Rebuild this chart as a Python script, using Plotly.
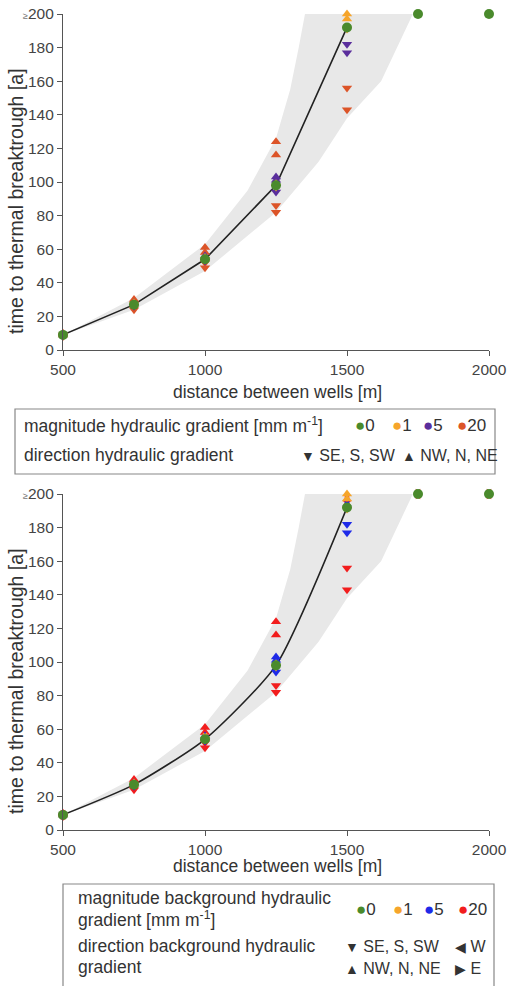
import plotly.graph_objects as go

W, H = 511, 986

# ---------------- data ----------------
dist = [500, 750, 1000, 1250, 1500, 1750, 2000]
green_y = [9, 27, 54, 98, 192, 200, 200]
mean_x = [500, 750, 1000, 1250, 1500]
mean_y = [9, 27, 54, 98, 192]

band_upper_x = [500, 750, 1000, 1150, 1250, 1300, 1330, 1352]
band_upper_y = [9, 31, 63, 95, 126, 155, 180, 200]
band_lower_x = [1732, 1620, 1500, 1400, 1250, 1000, 750, 500]
band_lower_y = [200, 160, 138, 112, 82, 47, 24, 9]

# top chart: hydraulic gradient
a1_up_x = [500, 750, 1000, 1250, 1500, 1500]
a1_up_y = [9, 28, 55, 99, 200, 197]
a1_dn_x = [500, 750, 1000, 1250, 1500]
a1_dn_y = [9, 27, 54, 97, 191]
a5_up_x = [500, 750, 1000, 1250, 1250]
a5_up_y = [9, 28, 56, 103, 101]
a5_dn_x = [500, 750, 1000, 1250, 1500, 1500]
a5_dn_y = [9, 26, 53, 94, 182, 177]
a20_up_x = [500, 750, 1000, 1000, 1250, 1250]
a20_up_y = [10, 30, 61, 58, 124, 116]
a20_dn_x = [500, 750, 1000, 1000, 1250, 1250, 1500, 1500]
a20_dn_y = [8, 24, 52, 49, 86, 82, 156, 143]

# bottom chart: background hydraulic gradient
b1_up_x = [500, 750, 1000, 1250, 1500, 1500]
b1_up_y = [9, 28, 55, 99, 200, 197]
b1_dn_x = [500, 750, 1000, 1250, 1500]
b1_dn_y = [9, 27, 54, 97, 191]
b1_we_x = [1000]
b1_we_y = [55]
b5_up_x = [500, 750, 1000, 1250, 1250]
b5_up_y = [9, 28, 56, 103, 101]
b5_dn_x = [500, 750, 1000, 1250, 1500, 1500]
b5_dn_y = [9, 26, 53, 94, 182, 177]
b5_we_x = [1250, 1500]
b5_we_y = [98, 193]
b20_up_x = [500, 750, 1000, 1000, 1250, 1250]
b20_up_y = [10, 30, 61, 58, 124, 116]
b20_dn_x = [500, 750, 1000, 1000, 1250, 1250, 1500, 1500]
b20_dn_y = [8, 24, 52, 49, 86, 82, 156, 143]
b20_we_x = [500, 750, 1500, 1750, 2000]
b20_we_y = [9, 27, 196, 200, 200]

y_ticks = [0, 20, 40, 60, 80, 100, 120, 140, 160, 180, 200]
y_ticktext = [str(v) for v in y_ticks[:-1]] + ["<span style='font-size:9px;color:#777'>≥</span>200"]
x_ticks = [500, 1000, 1500, 2000]
mag_labels = ["0", "1", "5", "20"]

# ---------------- styles ----------------
GREEN = "#4a8a2c"
ORANGE = "#f6a52b"
PURPLE = "#5a2e9c"
REDOR = "#dc5428"
BLUE = "#1e2ae8"
RED = "#f21d1d"
BAND = "#e8e8e8"
AX = "#555555"
TXT = "#333333"
FONT = "Liberation Sans, Arial, sans-serif"

fig = go.Figure()


def px_x(p):
    return p / W


def px_y(p):
    return (H - p) / H


def add_chart(xa, ya, line_shape, groups):
    fig.add_trace(go.Scatter(
        x=band_upper_x + band_lower_x, y=band_upper_y + band_lower_y,
        fill="toself", fillcolor=BAND, line=dict(width=0), mode="lines",
        xaxis=xa, yaxis=ya, hoverinfo="skip", showlegend=False))
    fig.add_trace(go.Scatter(
        x=mean_x, y=mean_y, mode="lines",
        line=dict(color="#222222", width=1.6, shape=line_shape, smoothing=0.6),
        xaxis=xa, yaxis=ya, showlegend=False, hoverinfo="skip"))
    for xs, ys, sym, col in groups:
        fig.add_trace(go.Scatter(
            x=xs, y=ys, mode="markers",
            marker=dict(symbol=sym, size=9, color=col, line=dict(width=0)),
            xaxis=xa, yaxis=ya, showlegend=False, cliponaxis=False))
    fig.add_trace(go.Scatter(
        x=dist, y=green_y, mode="markers",
        marker=dict(symbol="circle", size=10, color=GREEN, line=dict(width=0)),
        xaxis=xa, yaxis=ya, showlegend=False, cliponaxis=False))


add_chart("x", "y", "linear", [
    (a20_up_x, a20_up_y, "triangle-up", REDOR),
    (a20_dn_x, a20_dn_y, "triangle-down", REDOR),
    (a5_up_x, a5_up_y, "triangle-up", PURPLE),
    (a5_dn_x, a5_dn_y, "triangle-down", PURPLE),
    (a1_up_x, a1_up_y, "triangle-up", ORANGE),
    (a1_dn_x, a1_dn_y, "triangle-down", ORANGE),
])

add_chart("x2", "y2", "spline", [
    (b20_we_x, b20_we_y, "triangle-left", RED),
    (b20_we_x, b20_we_y, "triangle-right", RED),
    (b20_up_x, b20_up_y, "triangle-up", RED),
    (b20_dn_x, b20_dn_y, "triangle-down", RED),
    (b5_we_x, b5_we_y, "triangle-left", BLUE),
    (b5_we_x, b5_we_y, "triangle-right", BLUE),
    (b5_up_x, b5_up_y, "triangle-up", BLUE),
    (b5_dn_x, b5_dn_y, "triangle-down", BLUE),
    (b1_we_x, b1_we_y, "triangle-left", ORANGE),
    (b1_we_x, b1_we_y, "triangle-right", ORANGE),
    (b1_up_x, b1_up_y, "triangle-up", ORANGE),
    (b1_dn_x, b1_dn_y, "triangle-down", ORANGE),
])

xdom = [px_x(63), px_x(489)]
xaxis_common = dict(range=[500, 2000], tickvals=x_ticks, showline=True, linecolor=AX, linewidth=1.2,
                    ticks="outside", ticklen=5, tickcolor=AX, tickwidth=1.2, showgrid=False,
                    zeroline=False, automargin=False,
                    tickfont=dict(size=15.5, color="#444444", family=FONT), domain=xdom)
yaxis_common = dict(range=[0, 200], tickvals=y_ticks, ticktext=y_ticktext, showline=True, linecolor=AX,
                    linewidth=1.2, ticks="outside", ticklen=5, tickcolor=AX, tickwidth=1.2, showgrid=False,
                    zeroline=False, automargin=False,
                    tickfont=dict(size=15.5, color="#444444", family=FONT))

fig.update_layout(
    width=W, height=H, autosize=False, margin=dict(l=0, r=0, t=0, b=0, pad=0, autoexpand=False),
    paper_bgcolor="white", plot_bgcolor="white",
    font=dict(family=FONT, color=TXT, size=17),
    xaxis=dict(anchor="y", **xaxis_common),
    yaxis=dict(anchor="x", domain=[px_y(350), px_y(14)], **yaxis_common),
    xaxis2=dict(anchor="y2", **xaxis_common),
    yaxis2=dict(anchor="x2", domain=[px_y(830), px_y(494)], **yaxis_common),
)

ann = []


def text(x, y, s, xanchor="left", size=17.5, angle=0):
    ann.append(dict(x=px_x(x), y=px_y(y), xref="paper", yref="paper", text=s, showarrow=False,
                    xanchor=xanchor, yanchor="middle", textangle=angle, align="left",
                    borderpad=0, font=dict(size=size, color=TXT, family=FONT)))


# axis titles
text(277, 392, "distance between wells [m]", xanchor="center")
text(277, 866, "distance between wells [m]", xanchor="center")
text(16, 201, "time to thermal breaktrough [a]", xanchor="center", angle=-90, size=19.5)
text(16, 681, "time to thermal breaktrough [a]", xanchor="center", angle=-90, size=19.5)


def dot(c):
    return "<span style='color:%s;font-size:17px'>●</span>" % c


def tri(ch):
    return "<span style='font-size:14px'>%s</span>" % ch


mag_x = [354, 391, 422, 456]

# top legend
text(23, 425, "magnitude hydraulic gradient [mm m<sup>-1</sup>]")
for xx, lab, col in zip(mag_x, mag_labels, [GREEN, ORANGE, PURPLE, REDOR]):
    text(xx, 425, dot(col) + lab, size=17)
text(23, 455, "direction hydraulic gradient")
text(300, 455, tri("▼") + " SE, S, SW", size=16)
text(401, 455, tri("▲") + " NW, N, NE", size=16)

# bottom legend
text(77, 898, "magnitude background hydraulic")
text(77, 919, "gradient [mm m<sup>-1</sup>]")
for xx, lab, col in zip(mag_x, mag_labels, [GREEN, ORANGE, BLUE, RED]):
    text(xx + 1, 909, dot(col) + lab, size=17)
text(77, 946, "direction background hydraulic")
text(77, 967, "gradient")
text(344, 946, tri("▼") + " SE, S, SW", size=16)
text(344, 968, tri("▲") + " NW, N, NE", size=16)
text(454, 946, tri("◀") + " W", size=16)
text(454, 968, tri("▶") + " E", size=16)

fig.update_layout(annotations=ann)

fig.update_layout(shapes=[
    dict(type="rect", xref="paper", yref="paper", x0=px_x(15), x1=px_x(495), y0=px_y(474), y1=px_y(409),
         line=dict(color="#888888", width=1.2), fillcolor="rgba(0,0,0,0)"),
    dict(type="rect", xref="paper", yref="paper", x0=px_x(63), x1=px_x(494), y0=-0.05, y1=px_y(884),
         line=dict(color="#888888", width=1.2), fillcolor="rgba(0,0,0,0)"),
])

fig.write_html("out.html")
